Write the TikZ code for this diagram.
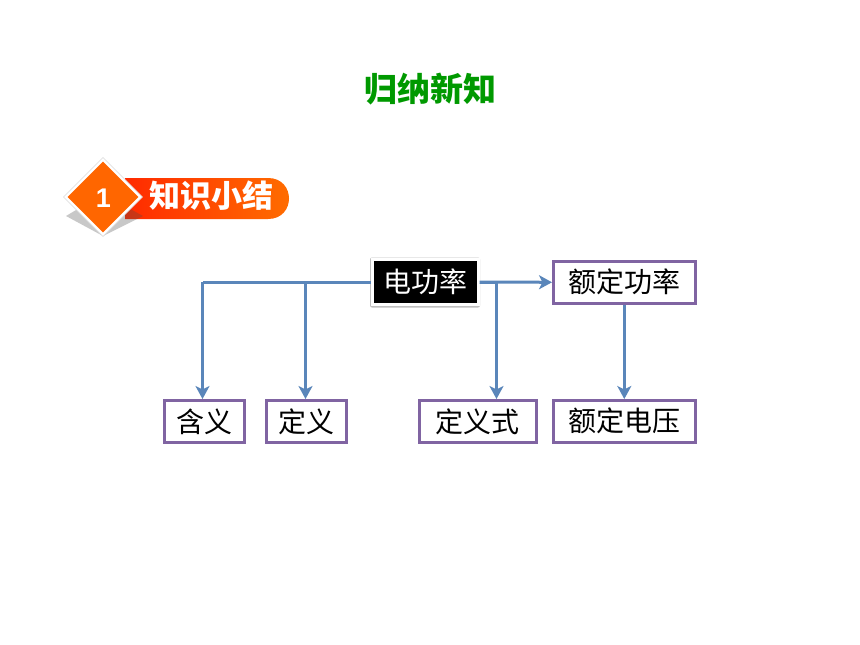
\documentclass[tikz,border=0pt]{standalone}
\usepackage{fontspec}
\newfontfamily\cjk{Noto Sans CJK SC}
\setmainfont{Liberation Sans}
\usetikzlibrary{arrows.meta}
\definecolor{boxv}{HTML}{8064A2}
\definecolor{linkb}{HTML}{5A86BA}
\definecolor{titleg}{HTML}{009900}
\definecolor{barr}{HTML}{FF2A00}
\definecolor{baro}{HTML}{FF6F00}
\definecolor{dia}{HTML}{FF6600}
\tikzset{
  x=1pt,y=-1pt,
  kbox/.style={draw=boxv,line width=2.6pt,fill=white,minimum height=42pt,inner sep=0pt,font=\cjk\fontsize{28}{30}\selectfont,text=black,anchor=north west},
  link/.style={draw=linkb,line width=3pt},
  arrowlink/.style={link,-{Stealth[length=13pt,width=14pt,inset=3.5pt]}},
}
\begin{document}
\begin{tikzpicture}
\useasboundingbox[fill=white] (0,0) rectangle (860,645);
% title
\node[font=\cjk\bfseries\fontsize{33}{35}\selectfont,text=titleg,inner sep=0pt] (title) at (430.5,89) {归纳新知};
% badge
\path[left color=barr,right color=baro] (125,178) -- (268,178) .. controls (296,178) and (296,219) .. (268,219) -- (125,219) -- cycle;
\fill[black!70,opacity=.3] (66,216) -- (103,194) -- (143,216) -- (103,236) -- cycle;
\filldraw[fill=dia,draw=white,line width=2.5pt] (65.5,197) -- (103,159.5) -- (140.5,197) -- (103,234.5) -- cycle;
\draw[black!15,line width=.6pt] (63.5,197) -- (103,157.5) -- (142.5,197) -- (103,236.5) -- cycle;
\node[font=\bfseries\fontsize{27}{29}\selectfont,text=white,inner sep=0pt] (num) at (103.5,198) {1};
\node[font=\cjk\bfseries\fontsize{31}{33}\selectfont,text=white,inner sep=0pt] (head) at (211.5,196) {知识小结};
\coordinate (jl) at (202.5,282);
\coordinate (jm) at (305.5,282);
\coordinate (jr) at (496.5,282);
% centre node
\fill[black!25,rounded corners=2pt] (370,257.5) rectangle (480,307.5);
\node[fill=black,draw=white,line width=3pt,minimum width=106pt,minimum height=45pt,inner sep=0pt,font=\cjk\fontsize{28}{30}\selectfont,text=white] (main) at (425,282) {电功率};
% boxes
\node[kbox,minimum width=142pt] (edgl) at (552,260) {额定功率};
\node[kbox,minimum width=142pt] (eddy) at (552,399) {额定电压};
\node[kbox,minimum width=80pt] (hy) at (163,399) {含义};
\node[kbox,minimum width=80pt] (dy) at (265,399) {定义};
\node[kbox,minimum width=117pt] (dys) at (418,399) {定义式};
% connectors
\draw[link] (main.west) -- (jl);
\draw[arrowlink] (jl) -- (jl |- hy.north);
\draw[arrowlink] (main.west) -- (jm) -- (jm |- dy.north);
\draw[arrowlink] (main.east) -- (jr) -- (jr |- dys.north);
\draw[arrowlink] (main.east) -- (edgl.west);
\draw[arrowlink] (edgl.south) -- (eddy.north);
\end{tikzpicture}
\end{document}
